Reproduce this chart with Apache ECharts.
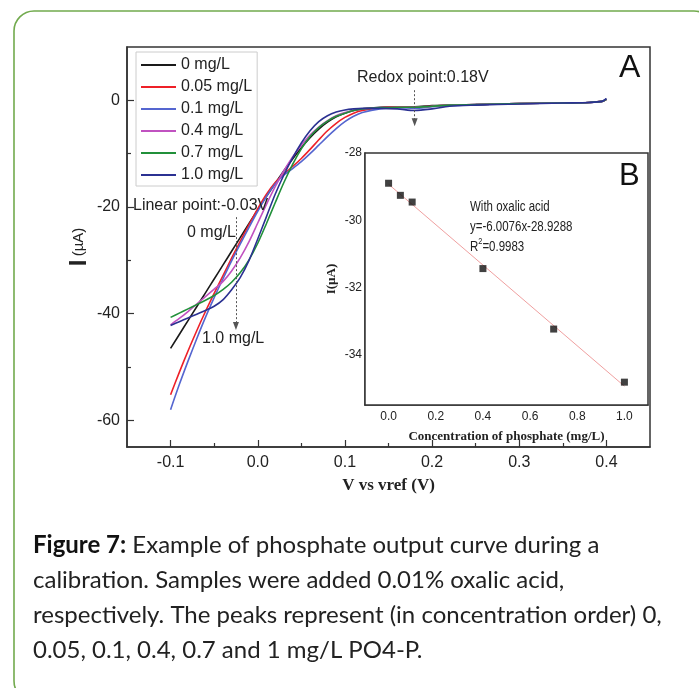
<!DOCTYPE html>
<html>
<head>
<meta charset="utf-8">
<script src="https://cdn.jsdelivr.net/npm/echarts@6/dist/echarts.min.js"></script>
<style>
  html, body { margin: 0; padding: 0; background: #fff; }
  #main { width: 699px; height: 688px; }
</style>
</head>
<body>
<div id="main"></div>
<script>
// voltages (V vs vref) shared by all curves
const volts = [-0.1, -0.09, -0.08, -0.07, -0.06, -0.05, -0.04, -0.03, -0.02, -0.01,
  0, 0.01, 0.02, 0.03, 0.04, 0.05, 0.06, 0.07, 0.08, 0.09,
  0.1, 0.11, 0.12, 0.14, 0.16, 0.18, 0.2, 0.22, 0.25, 0.3, 0.35, 0.38, 0.395, 0.4];

const names = ['0 mg/L', '0.05 mg/L', '0.1 mg/L', '0.4 mg/L', '0.7 mg/L', '1.0 mg/L'];
const colors = ['#1a1a1a', '#ee2028', '#5566d0', '#c052c0', '#21903a', '#2b3192'];

const cur0 = [-46.5, -43.9, -41.3, -38.7, -36.1, -33.5, -30.9, -28.3, -25.7, -23.1,
  -20.5, -18.0, -15.6, -13.2, -11.0, -8.9, -7.0, -5.4, -4.1, -3.1,
  -2.4, -1.9, -1.6, -1.3, -1.2, -1.2, -1.0, -0.9, -0.8, -0.6, -0.5, -0.4, -0.2, 0.2];
const cur005 = [-55.2, -51.0, -47.0, -43.2, -39.6, -36.2, -32.9, -29.6, -26.4, -23.3,
  -20.3, -17.6, -15.4, -13.8, -12.4, -10.9, -9.2, -7.4, -5.7, -4.3,
  -3.2, -2.4, -1.9, -1.4, -1.2, -1.3, -1.1, -0.9, -0.8, -0.6, -0.5, -0.4, -0.2, 0.2];
const cur01 = [-58.0, -53.3, -48.9, -44.7, -40.7, -37.0, -33.5, -30.1, -26.9, -23.8,
  -20.8, -18.0, -15.7, -14.0, -12.8, -11.5, -10.0, -8.4, -6.8, -5.3,
  -4.0, -3.0, -2.3, -1.6, -1.4, -1.5, -1.2, -1.0, -0.8, -0.6, -0.5, -0.4, -0.2, 0.3];
const cur04 = [-42.1, -40.9, -39.6, -38.2, -36.8, -35.4, -34.0, -32.0, -29.5, -26.5,
  -23.0, -19.5, -16.2, -13.2, -10.6, -8.4, -6.5, -5.0, -3.8, -2.9,
  -2.3, -1.9, -1.6, -1.4, -1.3, -1.3, -1.1, -0.9, -0.8, -0.6, -0.5, -0.4, -0.2, 0.2];
const cur07 = [-40.7, -39.9, -39.1, -38.3, -37.5, -36.6, -35.5, -34.1, -32.3, -29.9,
  -26.8, -23.1, -19.2, -15.4, -12.0, -9.1, -6.8, -5.1, -3.9, -3.0,
  -2.4, -1.9, -1.6, -1.4, -1.3, -1.3, -1.1, -0.9, -0.8, -0.6, -0.5, -0.4, -0.2, 0.2];
const cur10 = [-42.2, -41.5, -40.8, -40.1, -39.4, -38.6, -37.4, -35.5, -33.2, -30.0,
  -26.0, -21.8, -17.6, -14.0, -10.8, -8.0, -5.7, -4.0, -2.9, -2.2,
  -1.8, -1.6, -1.5, -1.5, -1.6, -1.9, -1.6, -1.1, -0.9, -0.7, -0.5, -0.4, -0.2, 0.3];
const currents = [cur0, cur005, cur01, cur04, cur07, cur10];

// inset B: calibration points
const concX = [0, 0.05, 0.1, 0.4, 0.7, 1.0];
const peakY = [-28.9, -29.26, -29.46, -31.44, -33.24, -34.82];
const fitX = [0, 1.0];
const fitY = [-28.93, -34.94];

const mainXLabels = [-0.1, 0, 0.1, 0.2, 0.3, 0.4];
const mainXMinor = [-0.05, 0.05, 0.15, 0.25, 0.35];
const mainYLabels = [-60, -40, -20, 0];
const mainYMinor = [-50, -30, -10];
const insetXLabels = [0, 0.2, 0.4, 0.6, 0.8, 1.0];
const insetXMinor = [0.1, 0.3, 0.5, 0.7, 0.9];
const insetYLabels = [-34, -32, -30, -28];
const insetYMinor = [-35, -33, -31, -29];

let myChart = echarts.init(document.getElementById('main'));

const sans = 'Liberation Sans, Arial, sans-serif';
const serif = 'Liberation Serif, Times New Roman, serif';
const axisCol = '#333';

function majorAxis(opt) {
    return Object.assign({
        type: 'value',
        axisLine: { show: true, onZero: false, lineStyle: { color: axisCol, width: 1.5 } },
        splitLine: { show: false },
        axisTick: { show: true, inside: true, length: 6, lineStyle: { color: axisCol, width: 1.2 } },
        axisLabel: { color: '#222', fontFamily: sans, fontSize: 16 }
    }, opt);
}
function minorAxis(opt) {
    return Object.assign({
        type: 'value',
        axisLine: { show: false, onZero: false },
        splitLine: { show: false },
        axisLabel: { show: false }
    }, opt);
}

let series = names.map(function (n, i) {
    return {
        name: n,
        type: 'line',
        xAxisIndex: 0,
        yAxisIndex: 0,
        data: volts.map(function (v, k) { return [v, currents[i][k]]; }),
        showSymbol: false,
        symbol: 'none',
        smooth: 0.3,
        lineStyle: { color: colors[i], width: 1.6 },
        itemStyle: { color: colors[i] },
        z: 3
    };
});

// dotted arrows (redox point and linear point)
series.push({
    type: 'line',
    xAxisIndex: 0,
    yAxisIndex: 0,
    data: [],
    markLine: {
        silent: true,
        symbol: ['none', 'triangle'],
        symbolSize: [6, 8],
        label: { show: false },
        lineStyle: { color: '#555', type: [2, 2], width: 1 },
        data: [
            [{ coord: [0.18, 1.9] }, { coord: [0.18, -4.1] }],
            [{ coord: [-0.025, -21.9] }, { coord: [-0.025, -42.3] }]
        ]
    }
});

series.push({
    type: 'line',
    xAxisIndex: 2,
    yAxisIndex: 2,
    data: fitX.map(function (x, k) { return [x, fitY[k]]; }),
    symbol: 'none',
    lineStyle: { color: '#f0a0a0', width: 1 },
    z: 3
});
series.push({
    type: 'scatter',
    xAxisIndex: 2,
    yAxisIndex: 2,
    data: concX.map(function (x, k) { return [x, peakY[k]]; }),
    symbol: 'rect',
    symbolSize: 7,
    itemStyle: { color: '#111' },
    z: 4
});

const narrow = '14px ' + sans;

myChart.setOption({
    animation: false,
    backgroundColor: '#fff',
    grid: [
        { left: 127, top: 47, width: 523, height: 400, show: true, borderColor: axisCol, borderWidth: 1.5, backgroundColor: '#fff' },
        { left: 365, top: 153, width: 283, height: 252, show: true, borderColor: axisCol, borderWidth: 1.5, backgroundColor: '#fff', z: 1 }
    ],
    legend: {
        data: names,
        orient: 'vertical',
        left: 136,
        top: 52,
        itemWidth: 35,
        itemHeight: 2,
        itemGap: 4,
        icon: 'rect',
        padding: [4, 5, 2, 5],
        borderColor: '#ccc',
        borderWidth: 1,
        backgroundColor: '#fff',
        textStyle: { fontFamily: sans, fontSize: 16, color: '#222', lineHeight: 18 }
    },
    xAxis: [
        majorAxis({
            gridIndex: 0, min: -0.15, max: 0.45,
            name: 'V vs vref (V)', nameLocation: 'middle', nameGap: 30,
            nameTextStyle: { fontFamily: serif, fontWeight: 'bold', fontSize: 17, color: '#222' },
            axisTick: { show: true, inside: true, length: 7, customValues: mainXLabels, lineStyle: { color: axisCol, width: 1.2 } },
            axisLabel: { color: '#222', fontFamily: sans, fontSize: 16, margin: 8, customValues: mainXLabels,
                formatter: function (v) { return v.toFixed(1); } }
        }),
        minorAxis({ gridIndex: 0, min: -0.15, max: 0.45, position: 'bottom',
            axisTick: { show: true, inside: true, length: 4, customValues: mainXMinor, lineStyle: { color: axisCol, width: 1.2 } } }),
        majorAxis({
            gridIndex: 1, min: -0.1, max: 1.1,
            name: 'Concentration of phosphate (mg/L)', nameLocation: 'middle', nameGap: 25,
            nameTextStyle: { fontFamily: serif, fontWeight: 'bold', fontSize: 13, color: '#222' },
            axisTick: { show: true, inside: true, length: 5, customValues: insetXLabels, lineStyle: { color: axisCol, width: 1 } },
            axisLabel: { color: '#222', fontFamily: sans, fontSize: 12, margin: 6, customValues: insetXLabels,
                formatter: function (v) { return v.toFixed(1); } }
        }),
        minorAxis({ gridIndex: 1, min: -0.1, max: 1.1, position: 'bottom',
            axisTick: { show: true, inside: true, length: 3, customValues: insetXMinor, lineStyle: { color: axisCol, width: 1 } } })
    ],
    yAxis: [
        majorAxis({
            gridIndex: 0, min: -65, max: 10,
            name: '{b|I} {s|(µA)}', nameLocation: 'middle', nameGap: 36, nameMoveOverlap: false,
            nameTextStyle: { rich: {
                b: { fontFamily: sans, fontWeight: 'bold', fontSize: 24, color: '#222' },
                s: { fontFamily: sans, fontSize: 15, color: '#222' }
            } },
            axisTick: { show: true, inside: true, length: 7, customValues: mainYLabels, lineStyle: { color: axisCol, width: 1.2 } },
            axisLabel: { color: '#222', fontFamily: sans, fontSize: 16, margin: 7, customValues: mainYLabels }
        }),
        minorAxis({ gridIndex: 0, min: -65, max: 10, position: 'left',
            axisTick: { show: true, inside: true, length: 4, customValues: mainYMinor, lineStyle: { color: axisCol, width: 1.2 } } }),
        majorAxis({
            gridIndex: 1, min: -35.5, max: -28,
            name: 'I(µA)', nameLocation: 'middle', nameGap: 27, nameMoveOverlap: false,
            nameTextStyle: { fontFamily: serif, fontWeight: 'bold', fontSize: 13, color: '#222' },
            axisTick: { show: true, inside: true, length: 5, customValues: insetYLabels, lineStyle: { color: axisCol, width: 1 } },
            axisLabel: { color: '#222', fontFamily: sans, fontSize: 12, margin: 3, customValues: insetYLabels }
        }),
        minorAxis({ gridIndex: 1, min: -35.5, max: -28, position: 'left',
            axisTick: { show: true, inside: true, length: 3, customValues: insetYMinor, lineStyle: { color: axisCol, width: 1 } } })
    ],
    series: series,
    graphic: [
        {
            type: 'rect', silent: true, z: 0,
            shape: { x: 14, y: 11, width: 700, height: 690, r: 20 },
            style: { fill: 'none', stroke: '#72aa4e', lineWidth: 1.6 }
        },
        { type: 'text', left: 357, top: 70, z: 10, style: { text: 'Redox point:0.18V', font: '16px ' + sans, fill: '#222' } },
        { type: 'text', left: 133, top: 198, z: 10, style: { text: 'Linear point:-0.03V', font: '16px ' + sans, fill: '#222' } },
        { type: 'text', left: 187, top: 225, z: 10, style: { text: '0 mg/L', font: '16px ' + sans, fill: '#222' } },
        { type: 'text', left: 202, top: 331, z: 10, style: { text: '1.0 mg/L', font: '16px ' + sans, fill: '#222' } },
        { type: 'text', left: 619, top: 52, z: 10, style: { text: 'A', font: '32px ' + sans, fill: '#111' } },
        { type: 'text', left: 619, top: 161, z: 10, style: { text: 'B', font: '31px ' + sans, fill: '#111' } },
        {
            type: 'text', x: 470, y: 197, z: 10, scaleX: 0.82,
            style: {
                text: 'With oxalic acid\ny=-6.0076x-28.9288\n{t|R}{sup|2}{t|=0.9983}',
                font: narrow,
                fill: '#222', lineHeight: 20,
                rich: {
                    t: { font: narrow, fill: '#222', lineHeight: 20 },
                    sup: { font: '9px ' + sans, fill: '#222', verticalAlign: 'top', padding: [0, 0, 9, 0], lineHeight: 20 }
                }
            }
        },
        {
            type: 'text', left: 33, top: 528, z: 10,
            style: {
                text: '{b|Figure 7:} Example of phosphate output curve during a\ncalibration. Samples were added 0.01% oxalic acid,\nrespectively. The peaks represent (in concentration order) 0,\n0.05, 0.1, 0.4, 0.7 and 1 mg/L PO4-P.',
                font: '24px Lato, "Open Sans", sans-serif',
                fill: '#222',
                lineHeight: 35,
                rich: {
                    b: { font: 'bold 24px Lato, "Open Sans", sans-serif', fill: '#111', lineHeight: 35 }
                }
            }
        }
    ]
});
</script>
</body>
</html>
